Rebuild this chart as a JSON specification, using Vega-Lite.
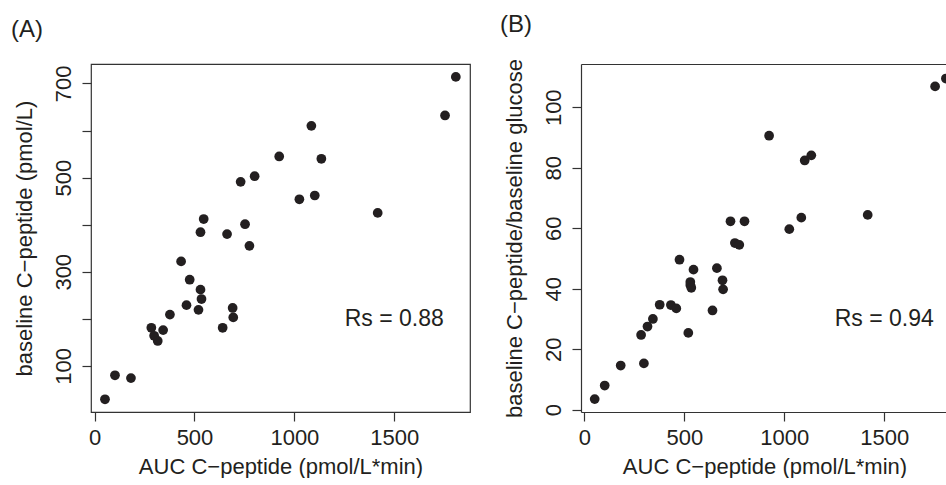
{
  "$schema": "https://vega.github.io/schema/vega-lite/v6.json",
  "background": "white",
  "padding": {"left": 10, "top": 12, "right": 0, "bottom": 0},
  "datasets": {
    "pts": [
      {"auc": 52, "bcp": 29, "ratio": 3.5},
      {"auc": 102, "bcp": 80, "ratio": 8},
      {"auc": 182, "bcp": 74, "ratio": 14.6},
      {"auc": 284, "bcp": 181, "ratio": 24.7},
      {"auc": 298, "bcp": 164, "ratio": 15.3},
      {"auc": 316, "bcp": 153, "ratio": 27.5},
      {"auc": 343, "bcp": 176, "ratio": 30},
      {"auc": 377, "bcp": 209, "ratio": 34.7},
      {"auc": 433, "bcp": 322, "ratio": 34.6},
      {"auc": 460, "bcp": 229, "ratio": 33.5},
      {"auc": 476, "bcp": 283, "ratio": 49.6},
      {"auc": 520, "bcp": 219, "ratio": 25.4},
      {"auc": 530, "bcp": 384, "ratio": 42.2},
      {"auc": 530, "bcp": 262, "ratio": 41.2},
      {"auc": 535, "bcp": 242, "ratio": 40.3},
      {"auc": 546, "bcp": 412, "ratio": 46.3},
      {"auc": 641, "bcp": 181, "ratio": 32.8},
      {"auc": 663, "bcp": 380, "ratio": 46.8},
      {"auc": 691, "bcp": 223, "ratio": 42.8},
      {"auc": 694, "bcp": 203, "ratio": 39.8},
      {"auc": 731, "bcp": 491, "ratio": 62.3},
      {"auc": 753, "bcp": 401, "ratio": 55.1},
      {"auc": 775, "bcp": 355, "ratio": 54.5},
      {"auc": 801, "bcp": 503, "ratio": 62.3},
      {"auc": 924, "bcp": 545, "ratio": 90.6},
      {"auc": 1025, "bcp": 454, "ratio": 59.7},
      {"auc": 1085, "bcp": 610, "ratio": 63.5},
      {"auc": 1102, "bcp": 462, "ratio": 82.4},
      {"auc": 1135, "bcp": 540, "ratio": 84.1},
      {"auc": 1417, "bcp": 425, "ratio": 64.4},
      {"auc": 1754, "bcp": 632, "ratio": 106.9},
      {"auc": 1808, "bcp": 714, "ratio": 109.5}
    ]
  },
  "config": {
    "font": "Liberation Sans",
    "view": {"stroke": "#333333", "strokeWidth": 1.2},
    "axis": {
      "grid": false,
      "domain": false,
      "domainColor": "#333333",
      "domainWidth": 1.2,
      "tickColor": "#333333",
      "tickWidth": 1.2,
      "tickSize": 9,
      "labelFont": "Liberation Sans",
      "labelFontSize": 22,
      "labelColor": "#231f20",
      "labelPadding": 6,
      "format": "d",
      "titleFont": "Liberation Sans",
      "titleFontSize": 22,
      "titleFontWeight": "normal",
      "titleColor": "#231f20"
    },
    "axisY": {"labelAngle": -90, "labelAlign": "center", "labelBaseline": "alphabetic", "labelPadding": 12, "titlePadding": 16},
    "axisX": {"titlePadding": 8},
    "title": {"font": "Liberation Sans", "fontSize": 24, "fontWeight": "normal", "anchor": "start", "frame": "group", "color": "#231f20", "offset": 22}
  },
  "spacing": 29,
  "hconcat": [
    {
      "width": 379,
      "height": 348,
      "title": {"text": "(A)", "dx": -80},
      "layer": [
        {
          "data": {"name": "pts"},
          "mark": {"type": "point", "filled": true, "size": 95, "color": "#231f20", "opacity": 1},
          "encoding": {
            "x": {"field": "auc", "type": "quantitative", "scale": {"domain": [-18, 1879], "nice": false, "zero": false},
                  "axis": {"values": [0, 500, 1000, 1500], "title": "AUC C−peptide (pmol/L*min)"}},
            "y": {"field": "bcp", "type": "quantitative", "scale": {"domain": [2, 741.4], "nice": false, "zero": false},
                  "axis": {"values": [100, 200, 300, 400, 500, 600, 700], "labelExpr": "datum.value % 200 == 100 ? datum.label : ''", "title": "baseline C−peptide (pmol/L)"}}
          }
        },
        {
          "data": {"values": [{"label": "Rs = 0.88"}]},
          "mark": {"type": "text", "fontSize": 23, "color": "#231f20", "font": "Liberation Sans", "align": "center", "baseline": "middle"},
          "encoding": {
            "text": {"field": "label"},
            "x": {"datum": 1500, "type": "quantitative"},
            "y": {"datum": 200, "type": "quantitative"}
          }
        }
      ]
    },
    {
      "width": 367,
      "height": 348,
      "view": {"stroke": null},
      "title": {"text": "(B)", "dx": -81},
      "layer": [
        {
          "data": {"name": "pts"},
          "mark": {"type": "point", "filled": true, "size": 95, "color": "#231f20", "opacity": 1, "clip": true},
          "encoding": {
            "x": {"field": "auc", "type": "quantitative", "scale": {"domain": [-16.5, 1818.5], "nice": false, "zero": false},
                  "axis": {"orient": "bottom", "domain": true, "values": [0, 500, 1000, 1500], "title": "AUC C−peptide (pmol/L*min)"}},
            "y": {"field": "ratio", "type": "quantitative", "scale": {"domain": [-0.76, 114.3], "nice": false, "zero": false},
                  "axis": {"domain": true, "values": [0, 20, 40, 60, 80, 100], "title": "baseline C−peptide/baseline glucose"}}
          }
        },
        {
          "data": {"values": [{"label": "Rs = 0.94"}]},
          "mark": {"type": "text", "fontSize": 23, "color": "#231f20", "font": "Liberation Sans", "align": "center", "baseline": "middle"},
          "encoding": {
            "text": {"field": "label"},
            "x": {"datum": 1500, "type": "quantitative",
                  "axis": {"orient": "top", "domain": true, "ticks": false, "labels": false, "title": null}},
            "y": {"datum": 30, "type": "quantitative"}
          }
        }
      ],
      "resolve": {"axis": {"x": "independent"}}
    }
  ]
}
